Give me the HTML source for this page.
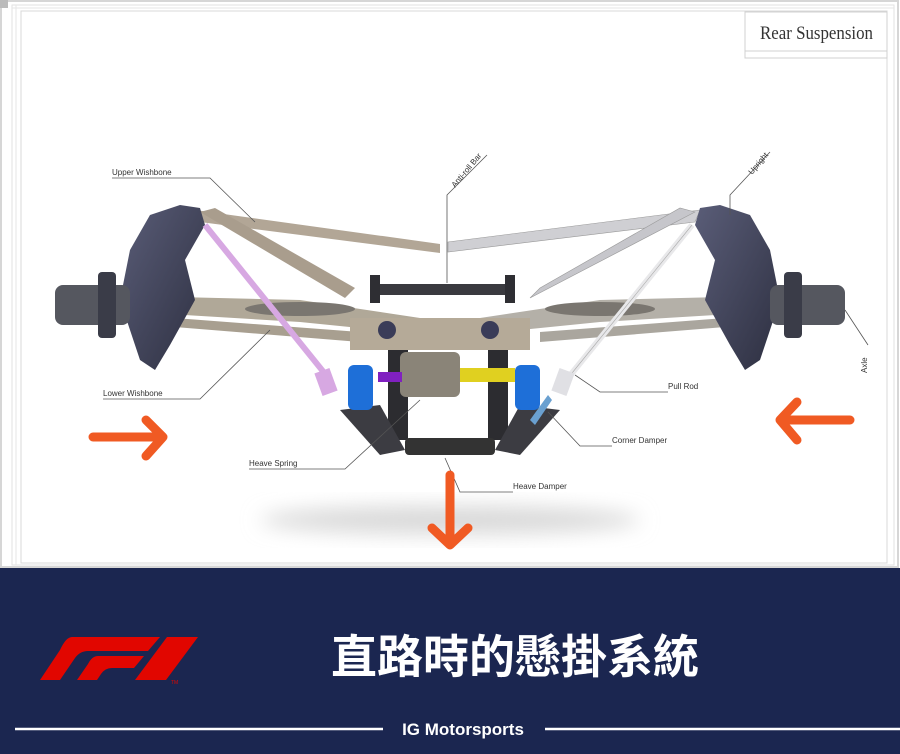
<!DOCTYPE html>
<html><head><meta charset="utf-8"><style>
html,body{margin:0;padding:0;width:900px;height:754px;overflow:hidden;background:#fff;font-family:"Liberation Sans","Noto Sans CJK TC",sans-serif}
</style></head><body>
<svg width="900" height="754" viewBox="0 0 900 754" xmlns="http://www.w3.org/2000/svg" style="position:absolute;left:0;top:0">
<defs>
<filter id="bl" x="-50%" y="-50%" width="200%" height="200%"><feGaussianBlur stdDeviation="10"/></filter>
<linearGradient id="up" x1="0" y1="0" x2="1" y2="1"><stop offset="0" stop-color="#5a5d78"/><stop offset="1" stop-color="#2d2f40"/></linearGradient>
</defs>
<rect width="900" height="568" fill="#fff"/>
<rect x="1" y="1" width="897" height="566" fill="none" stroke="#d6d6d6" stroke-width="2"/>
<rect x="12" y="5" width="882" height="560" fill="none" stroke="#e2e2e2"/>
<rect x="21" y="11" width="866" height="552" fill="none" stroke="#d8d8d8"/>
<line x1="16" y1="5" x2="16" y2="565" stroke="#e6e6e6"/>
<line x1="12" y1="8" x2="894" y2="8" stroke="#e6e6e6"/>
<rect x="0" y="0" width="8" height="8" fill="#bbb"/>
<rect x="745" y="12" width="142" height="46" fill="#fff" stroke="#d0d0d0"/>
<line x1="745" y1="51" x2="887" y2="51" stroke="#d0d0d0"/>
<text x="760" y="39" font-family="Liberation Serif,serif" font-size="19" fill="#333" textLength="113" lengthAdjust="spacingAndGlyphs">Rear Suspension</text>
<ellipse cx="450" cy="520" rx="190" ry="14" fill="#d8d8d8" filter="url(#bl)"/>
<path d="M135 296 L300 300 L420 318 L420 334 L300 322 L135 312 Z" fill="#b0a898"/>
<path d="M135 315 L360 332 L360 342 L150 325 Z" fill="#a89f90"/>
<ellipse cx="300" cy="309" rx="55" ry="7" fill="#7a7670"/>
<path d="M765 296 L600 300 L480 318 L480 334 L600 322 L765 312 Z" fill="#b4b0a8"/>
<path d="M765 315 L540 332 L540 342 L750 325 Z" fill="#aaa69e"/>
<ellipse cx="600" cy="309" rx="55" ry="7" fill="#7a7670"/>
<path d="M195 210 L440 244 L440 253 L200 222 Z" fill="#b2a696"/>
<path d="M200 212 L215 208 L355 288 L345 298 Z" fill="#a99d8d"/>
<path d="M700 210 L448 242 L448 252 L695 222 Z" fill="#cfcfd3" stroke="#999" stroke-width="0.6"/>
<path d="M695 212 L680 208 L540 288 L530 298 Z" fill="#c6c6cb" stroke="#999" stroke-width="0.6"/>
<path d="M150 215 L180 205 L200 208 L205 225 L185 260 L195 300 L170 345 L155 370 L140 360 L120 300 L130 250 Z" fill="url(#up)"/>
<path d="M750 215 L720 205 L700 208 L695 225 L715 260 L705 300 L730 345 L745 370 L760 360 L780 300 L770 250 Z" fill="url(#up)"/>
<rect x="55" y="285" width="75" height="40" rx="8" fill="#55575f"/>
<rect x="98" y="272" width="18" height="66" rx="4" fill="#3a3c48"/>
<rect x="770" y="285" width="75" height="40" rx="8" fill="#55575f"/>
<rect x="784" y="272" width="18" height="66" rx="4" fill="#3a3c48"/>
<rect x="370" y="284" width="145" height="11" fill="#3a3a3f"/>
<rect x="370" y="275" width="10" height="28" fill="#2e2e33"/>
<rect x="505" y="275" width="10" height="28" fill="#2e2e33"/>
<path d="M350 318 L530 318 L530 350 L350 350 Z" fill="#b5aa98"/>
<circle cx="387" cy="330" r="9" fill="#3a3c58"/><circle cx="490" cy="330" r="9" fill="#3a3c58"/>
<rect x="388" y="350" width="20" height="90" fill="#2c2c30"/>
<rect x="488" y="350" width="20" height="90" fill="#2c2c30"/>
<path d="M340 410 L380 405 L405 450 L380 455 Z" fill="#3c3c42"/>
<path d="M560 410 L520 405 L495 450 L520 455 Z" fill="#3c3c42"/>
<rect x="400" y="352" width="60" height="45" rx="6" fill="#8a8478"/>
<rect x="460" y="368" width="55" height="14" fill="#e0d020"/>
<rect x="378" y="372" width="24" height="10" fill="#8020c0"/>
<rect x="348" y="365" width="25" height="45" rx="6" fill="#1e6fd8"/>
<rect x="515" y="365" width="25" height="45" rx="6" fill="#1e6fd8"/>
<rect x="405" y="438" width="90" height="17" rx="4" fill="#333"/>
<line x1="205" y1="225" x2="330" y2="380" stroke="#d7a8e2" stroke-width="6"/>
<rect x="318" y="370" width="16" height="24" fill="#d7a8e2" transform="rotate(-20 326 382)"/>
<line x1="692" y1="225" x2="568" y2="378" stroke="#e8e8ea" stroke-width="6"/>
<line x1="692" y1="225" x2="568" y2="378" stroke="#aaa" stroke-width="0.6"/>
<rect x="555" y="370" width="16" height="24" fill="#e0e0e4" transform="rotate(20 563 382)"/>
<path d="M548 395 L530 420 L535 425 L552 400 Z" fill="#6aa0d0"/>
<g stroke="#555" stroke-width="0.8" fill="none">
<polyline points="112,178 210,178 255,222"/>
<polyline points="487,155 447,195 447,283"/>
<polyline points="770,152 730,195 730,215"/>
<polyline points="103,399 200,399 270,330"/>
<polyline points="668,392 600,392 575,375"/>
<polyline points="612,446 580,446 548,412"/>
<polyline points="249,469 345,469 420,400"/>
<polyline points="513,492 460,492 445,458"/>
<polyline points="868,345 845,310"/>
</g>
<g font-size="8" fill="#333" font-family="Liberation Sans,sans-serif">
<text x="112" y="175">Upper Wishbone</text>
<text x="103" y="396">Lower Wishbone</text>
<text x="668" y="389">Pull Rod</text>
<text x="612" y="443">Corner Damper</text>
<text x="249" y="466">Heave Spring</text>
<text x="513" y="489">Heave Damper</text>
<text transform="translate(455,188) rotate(-50)">Anti-roll Bar</text>
<text transform="translate(752,175) rotate(-50)">Upright</text>
<text transform="translate(867,373) rotate(-90)">Axle</text>
</g>
<g stroke="#f05a23" stroke-width="9" stroke-linecap="round" stroke-linejoin="round" fill="none">
<path d="M93 437 L163 437 M146 420 L163 437 L146 456"/>
<path d="M850 420 L780 420 M797 402 L780 420 L797 440"/>
<path d="M450 475 L450 545 M432 528 L450 545 L468 528"/>
</g>
<rect x="0" y="568" width="900" height="186" fill="#1b2650"/>
<text x="515" y="673" font-family="'Noto Sans CJK TC',sans-serif" font-weight="bold" font-size="46" fill="#fff" text-anchor="middle">直路時的懸掛系統</text>
<line x1="15" y1="729" x2="383" y2="729" stroke="#fff" stroke-width="2.5"/>
<line x1="545" y1="729" x2="900" y2="729" stroke="#fff" stroke-width="2.5"/>
<text x="463" y="735" font-family="Liberation Sans,sans-serif" font-weight="bold" font-size="17" fill="#fff" text-anchor="middle">IG Motorsports</text>
<g fill="#e10600">
<path d="M72 637 L160 637 L148 651 L88 651 Q80 651 75 658 L60 680 L40 680 L60 650 Q66 637 72 637 Z"/>
<path d="M98 656 L144 656 L134 668 L112 668 Q105 668 101 674 L97 680 L77 680 L88 664 Q92 656 98 656 Z"/>
<path d="M167 637 L198 637 L166 680 L135 680 Z"/>
</g>
<text x="171" y="684" font-size="5" fill="#e10600">TM</text>
</svg>
</body></html>
